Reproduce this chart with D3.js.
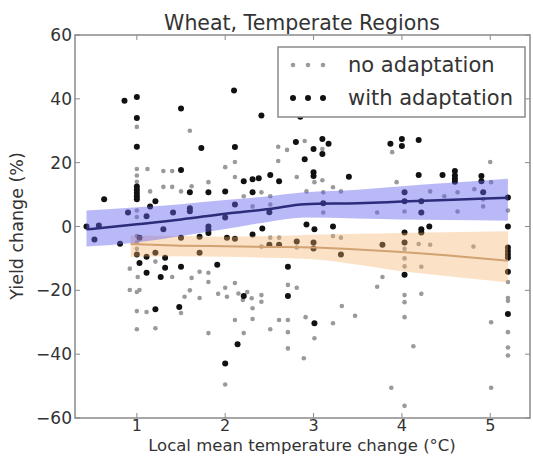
<!DOCTYPE html>
<html><head><meta charset="utf-8">
<script src="https://cdn.jsdelivr.net/npm/d3@7"></script>
<style>body{margin:0;background:#fff}svg{display:block}text{font-family:"DejaVu Sans",sans-serif;fill:#333}</style>
</head><body><svg id="c" width="533" height="456"></svg>
<script>
const title = "Wheat, Temperate Regions";
const xLabel = "Local mean temperature change (°C)";
const yLabel = "Yield change (%)";
const xTicks = [1, 2, 3, 4, 5];
const yTicks = [-60, -40, -20, 0, 20, 40, 60];
const seriesNames = ["no adaptation", "with adaptation"];

// no adaptation (gray points) [temperature change, yield change]
const noAdaptation = [
 [1.0,31.2],[1.6,30],[1.12,18],[1.3,17.4],[1.4,17.4],[2.0,18.6],[2.11,20.2],[2.6,25],[2.7,24],[2.6,20.5],[2.9,26.8],[3.1,24.3],[3.89,23.3],[5.0,20.2],
 [1.0,14],[1.0,16],[1.0,18],[1.0,5],[1.0,3],[1.3,12.4],[1.4,12.4],[1.15,11],[1.5,11],[1.62,12.6],[1.81,13.9],[2.11,15.5],[2.21,9.5],[2.31,6.3],[2.41,10.7],[2.51,9.5],[2.51,6.9],[2.81,15.5],[2.92,11],[3.01,13.9],[3.11,10.7],[3.22,12.3],[3.31,11],[3.1,14.5],[3.11,4.4],[3.72,4.4],[3.94,13.9],[4.03,4.7],[4.32,11],[4.48,9.5],[4.63,10.7],[4.63,4.7],[4.82,11.7],[4.92,8.5],[4.92,6.3],[5.01,13.9],[5.2,5],
 [1.0,-3],[1.0,-5],[1.0,-7],[0.92,-13.2],[1.01,-15.8],[1.03,-19.9],[0.92,-19.9],[1.21,-11],[1.4,-15.8],[1.62,-16.1],[1.71,-14.2],[1.81,-14.5],[1.81,-17.4],[2.0,-19.2],[2.11,-17.7],[2.41,-6.3],[2.51,-3.5],[2.61,-3.5],[2.81,-6.6],[3.22,-3],[3.31,-3.5],[3.72,-18.9],[3.78,-15.8],[4.03,-7],[4.03,-10],[4.03,-12.5],[4.19,-5.5],[4.22,-12.6],[4.32,-5.7],[4.81,-6.3],[5.2,-17.4],[5.2,-22.4],[2.81,-19.2],[2.71,-18.3],
 [1.0,-20.5],[1.0,-26.5],[1.0,-32.2],[1.11,-26.8],[1.21,-31.9],[1.5,-27.1],[1.54,-22],[1.6,-20],[1.71,-22.4],[1.81,-33.4],[1.92,-21.1],[2.02,-22],[2.0,-49.5],[2.11,-29.3],[2.15,-21],[2.2,-23],[2.25,-20.5],[2.3,-22.5],[2.21,-33.4],[2.31,-25.6],[2.31,-29],[2.41,-21.5],[2.41,-23.6],[2.51,-32.2],[2.61,-29.3],[2.71,-29.3],[2.71,-33.1],[2.71,-38.2],[2.91,-28.4],[2.89,-41.3],[3.01,-35],[3.22,-30.3],[3.32,-24.9],[3.47,-28],[3.88,-50.5],[4.03,-21.5],[4.03,-23.7],[4.03,-28.4],[4.03,-56.2],[4.13,-37.5],[4.22,-21.1],[5.01,-30],[5.01,-50.5],[5.2,-23.3],[5.2,-33.1],[5.2,-37.9],[5.2,-40.4]
];

// with adaptation (black points)
const withAdaptation = [
 [0.86,39.4],[1.0,40.6],[1.0,34],[1.0,25],[1.5,37],[2.1,42.6],[1.73,24.6],[2.11,24.9],[2.41,34.8],[2.85,34.4],[2.8,26.5],[1.5,17.7],[2.51,16.1],
 [3.1,27.4],[3.17,25.9],[3.0,24.3],[2.9,21.1],[3.1,22.7],[3.87,25.9],[4.0,27.4],[4.0,25.2],[4.19,27.1],[3.0,17],[3.0,15.8],[3.4,15.6],[4.19,16.1],[4.46,16.1],[4.6,17.4],[4.6,16],[4.6,15],[4.6,14],[4.9,15.8],[4.9,14.2],
 [0.63,8.5],[1.0,8.5],[1.0,9.5],[1.0,10.5],[1.0,11.5],[1.0,12.5],[1.15,6.3],[1.21,7.9],[1.11,3.2],[0.9,4.4],[1.41,4.4],[1.6,10.7],[1.6,5.7],[1.6,4.8],[1.81,10.7],[2.0,11],[2.0,2.8],[2.11,6.9],[2.21,14.2],[2.31,14.8],[2.38,15.1],[2.61,14.2],[2.31,10.7],[2.5,4.5],[3.11,7.3],[4.03,10.7],[4.03,7.9],[4.22,7.9],[4.22,4.4],[4.92,10.7],[5.2,9.1],
 [0.43,0],[0.57,0.3],[0.52,-4.1],[0.81,-5.4],[1.3,-0.9],[1.03,-3.5],[1.81,0],[1.81,-1],[1.81,-2],[1.71,-3.2],[1.71,-8.2],[2.42,-0.6],[2.31,-2.5],[2.11,-3.8],[2.02,-3.5],[1.5,-3.5],[1.5,-12.6],[1.32,-9.8],[1.32,-12.9],[1.27,-15.8],[1.11,-14.5],[1.03,-11.4],[1.0,-8.8],[1.11,-9.5],[1.21,-8.2],[1.91,-12],[2.71,-12.6],[2.71,-21.8],[2.5,-5.7],[2.61,-5.7],[2.81,-4.7],[2.92,0.6],[3.01,-0.9],[3.0,-5],[3.0,-6.9],[3.22,0],[3.31,-8.8],[3.78,-5.7],[4.03,-1.9],[4.03,-5],[4.03,-15.1],[4.22,-0.9],[4.22,-1.9],[4.31,0],[5.2,0],[5.2,-6.6],[5.2,-7.7],[5.2,-8.8],[5.2,-9.8],[5.2,-14.2],
 [1.21,-25.9],[1.48,-25.2],[2.21,-21.8],[2.14,-36.9],[2.0,-42.9],[3.01,-30.3],[5.2,-27.4]
];

// fitted trends: [x, fit, low, high]
const withFit = [
 [0.43,-0.9,-6.3,5.0],[1.0,0.7,-5,6],[1.5,2.2,-3,7],[2.0,4,-0.8,8.3],[2.5,5.5,1.5,9.5],[2.9,7,2.8,10.7],[3.5,7.3,2.5,11.5],[4.0,7.8,2.2,12.6],[4.5,8.3,2.0,13.6],[5.2,9.0,1.8,15]
];
const noFit = [
 [0.93,-5.5,-9.5,-2.8],[1.5,-6,-9.3,-3.0],[2.0,-6.2,-9.5,-3.2],[2.5,-6.4,-9.8,-3.0],[3.0,-6.6,-10.3,-2.6],[3.5,-7.2,-12,-2.3],[4.0,-8,-14,-2],[4.5,-9,-15.5,-1.8],[5.2,-10.7,-17.5,-1.5]
];

const svg = d3.select("#c");
const L = 75, R = 530, T = 35, B = 418;
const x = d3.scaleLinear().domain([0.3, 5.45]).range([L, R]);
const y = d3.scaleLinear().domain([-60, 60]).range([B, T]);

// points
svg.append("g").selectAll("circle").data(noAdaptation).join("circle")
  .attr("cx", d => x(d[0])).attr("cy", d => y(d[1])).attr("r", 2.3).attr("fill", "#9a9a9a");
svg.append("g").selectAll("circle").data(withAdaptation).join("circle")
  .attr("cx", d => x(d[0])).attr("cy", d => y(d[1])).attr("r", 3).attr("fill", "#111");

// bands
const area = d3.area().x(d => x(d[0])).y0(d => y(d[2])).y1(d => y(d[3])).curve(d3.curveMonotoneX);
const line = d3.line().x(d => x(d[0])).y(d => y(d[1])).curve(d3.curveMonotoneX);
svg.append("path").datum(noFit).attr("d", area).attr("fill", "#f5b16a").attr("opacity", 0.38);
svg.append("path").datum(withFit).attr("d", area).attr("fill", "#6464f0").attr("opacity", 0.45);
svg.append("path").datum(noFit).attr("d", line).attr("fill", "none").attr("stroke", "#d2a272").attr("stroke-width", 2);
svg.append("path").datum(withFit).attr("d", line).attr("fill", "none").attr("stroke", "#2c2c7a").attr("stroke-width", 2.5);

// frame and ticks
const fc = "#8a8a8a";
svg.append("rect").attr("x", L).attr("y", T).attr("width", R - L).attr("height", B - T)
  .attr("fill", "none").attr("stroke", fc).attr("stroke-width", 1.5);
const tl = 5;
xTicks.forEach(t => {
  svg.append("line").attr("x1", x(t)).attr("x2", x(t)).attr("y1", B).attr("y2", B - tl).attr("stroke", fc);
  svg.append("line").attr("x1", x(t)).attr("x2", x(t)).attr("y1", T).attr("y2", T + tl).attr("stroke", fc);
  svg.append("text").attr("x", x(t)).attr("y", 431).attr("text-anchor", "middle").attr("font-size", 16).text(t);
});
yTicks.forEach(t => {
  svg.append("line").attr("x1", L).attr("x2", L + tl).attr("y1", y(t)).attr("y2", y(t)).attr("stroke", fc);
  svg.append("line").attr("x1", R).attr("x2", R - tl).attr("y1", y(t)).attr("y2", y(t)).attr("stroke", fc);
  svg.append("text").attr("x", 72).attr("y", y(t)).attr("dy", "0.36em").attr("text-anchor", "end")
    .attr("font-size", 17).text(t < 0 ? "\u2212" + Math.abs(t) : t);
});

// labels
svg.append("text").attr("x", 302).attr("y", 30).attr("text-anchor", "middle").attr("font-size", 20.5).text(title);
svg.append("text").attr("x", 302).attr("y", 451).attr("text-anchor", "middle").attr("font-size", 16.5).text(xLabel);
svg.append("text").attr("transform", "translate(23,226) rotate(-90)").attr("text-anchor", "middle").attr("font-size", 17.5).text(yLabel);

// legend
const lg = svg.append("g");
lg.append("rect").attr("x", 278).attr("y", 47).attr("width", 247).attr("height", 70)
  .attr("fill", "#fff").attr("stroke", fc).attr("stroke-width", 1.5);
const legendColors = ["#9a9a9a", "#111"];
const legendR = [2.3, 3];
seriesNames.forEach((n, i) => {
  const cy = 65 + i * 33;
  [293, 308, 323].forEach(cx => lg.append("circle").attr("cx", cx).attr("cy", cy).attr("r", legendR[i]).attr("fill", legendColors[i]));
  lg.append("text").attr("x", 348).attr("y", cy + 7).attr("font-size", 21).text(n);
});
</script></body></html>
